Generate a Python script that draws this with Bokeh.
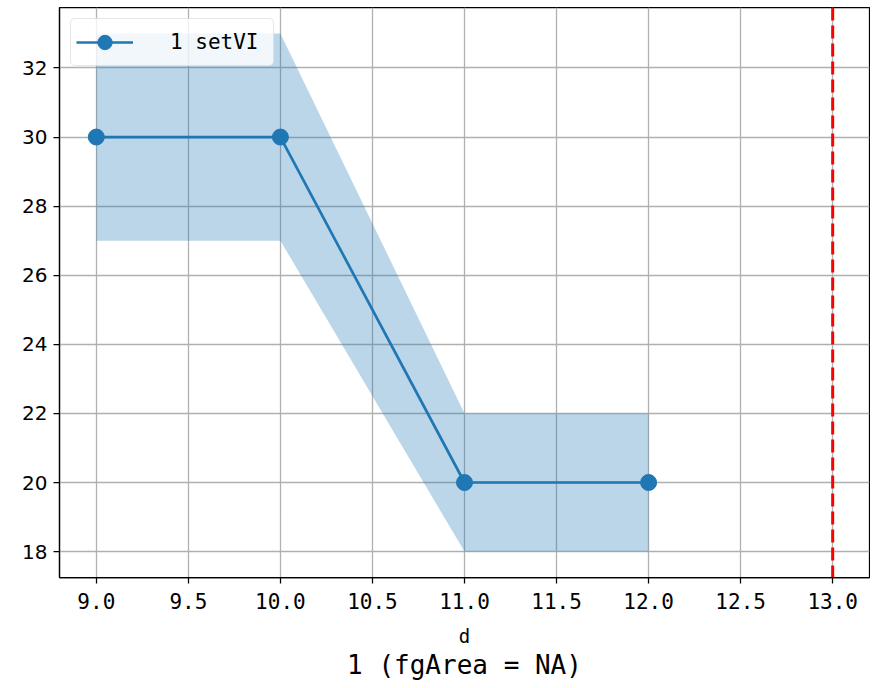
from bokeh.plotting import figure
from bokeh.models import Span, FixedTicker, NumeralTickFormatter
from bokeh.embed import file_html
from bokeh.resources import INLINE

x_vals = [9.0, 10.0, 11.0, 12.0]
y_vals = [30, 30, 20, 20]
lower = [27, 27, 18, 18]
upper = [33, 33, 22, 22]
vline_x = 13.0
x_ticks = [9.0, 9.5, 10.0, 10.5, 11.0, 11.5, 12.0, 12.5, 13.0]
y_ticks = [18, 20, 22, 24, 26, 28, 30, 32]
series_label = "1 setVI"
title_text = "1 (fgArea = NA)"
x_label = "d"

BLUE = "#1f77b4"
MONO = "DejaVu Sans Mono"

p = figure(width=870, height=686, output_backend="svg", toolbar_location=None,
           x_range=(8.8, 13.2), y_range=(17.25, 33.75),
           min_border_left=59, min_border_right=1, min_border_top=7, min_border_bottom=109,
           title=title_text, title_location="below")

p.title.align = "center"
p.title.text_font = MONO
p.title.text_font_size = "26px"
p.title.text_font_style = "normal"
p.title.text_color = "black"
p.title.standoff = -4
p.title.offset = 0

p.varea(x=x_vals, y1=lower, y2=upper, fill_color=BLUE, fill_alpha=0.3)
p.line(x_vals, y_vals, line_color=BLUE, line_width=2.7, legend_label=series_label)
p.scatter(x_vals, y_vals, size=16, fill_color=BLUE, line_color=BLUE, legend_label=series_label)

p.add_layout(Span(location=vline_x, dimension="height", line_color="red",
                  line_width=3, line_dash="13 5"))

p.xaxis.ticker = FixedTicker(ticks=x_ticks)
p.xaxis.formatter = NumeralTickFormatter(format="0.0")
p.yaxis.ticker = FixedTicker(ticks=y_ticks)
p.xaxis.axis_label = x_label
p.xaxis.axis_label_text_font = MONO
p.xaxis.axis_label_text_font_size = "19px"
p.xaxis.axis_label_text_font_style = "normal"
p.xaxis.axis_label_text_color = "black"
p.xaxis.axis_label_standoff = 13

for ax in (p.xaxis, p.yaxis):
    ax.axis_line_width = 1.25
    ax.axis_line_color = "black"
    ax.major_tick_line_width = 1.25
    ax.major_tick_line_color = "black"
    ax.major_tick_out = 6
    ax.major_tick_in = 0
    ax.minor_tick_line_color = None
    ax.major_label_text_color = "black"
    ax.major_label_standoff = 6
p.xaxis.major_label_text_font = MONO
p.xaxis.major_label_text_font_size = "21px"
p.xaxis.major_label_standoff = 9
p.yaxis.major_label_text_font = "DejaVu Sans"
p.yaxis.major_label_text_font_size = "20px"

p.outline_line_color = "black"
p.outline_line_width = 1.25
p.outline_line_alpha = 1
p.grid.grid_line_color = "#b0b0b0"
p.grid.grid_line_width = 1.3

lg = p.legend[0]
lg.location = "top_left"
lg.label_text_font = MONO
lg.label_text_font_size = "21px"
lg.label_text_color = "black"
lg.glyph_width = 57
lg.glyph_height = 36
lg.label_standoff = 37
lg.label_width = 98
lg.border_line_color = "#cccccc"
lg.border_line_width = 1.2
lg.border_radius = 5
lg.background_fill_alpha = 0.8
lg.margin = 11
lg.padding = 5

open("out.html", "w").write(file_html(p, INLINE))
